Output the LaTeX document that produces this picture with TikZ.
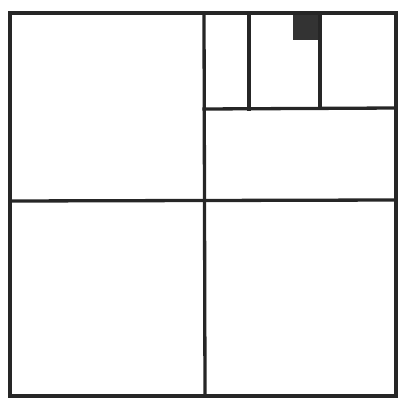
\documentclass[tikz,border=0pt]{standalone}
\begin{document}
\begin{tikzpicture}[x=1pt,y=-1pt,line width=3.3pt,color={black!85},
  frame/.style={draw,line cap=rect,line join=miter}]
\useasboundingbox (0,0) rectangle (401,403);
\fill[black!80] (293,13) rectangle (320,40);
\draw[frame] (10,13) rectangle (396,396);
\draw[frame] (204,13) -- (205,396);
\draw[frame] (10,201) -- (396,200);
\draw[frame] (204,109) -- (396,108);
\draw[frame] (249,13) -- (249,109);
\draw[frame] (320,13) -- (320,108);
\end{tikzpicture}
\end{document}
